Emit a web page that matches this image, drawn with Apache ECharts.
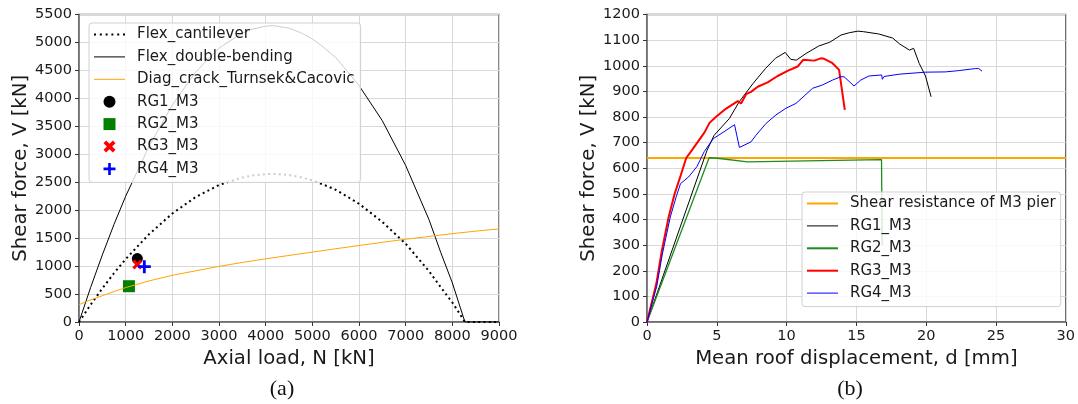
<!DOCTYPE html>
<html>
<head>
<meta charset="utf-8">
<script src="https://cdn.jsdelivr.net/npm/echarts@6/dist/echarts.min.js"></script>
<style>
  html, body { margin: 0; padding: 0; background: #fff; }
  #chart { width: 1078px; height: 404px; }
</style>
</head>
<body>
<div id="chart"></div>
<script>
// ---- (a) Interaction domain: shear force vs axial load ----
const flexN      = [0, 250, 500, 750, 1000, 1500, 2000, 2500, 3000, 3500, 3750, 4000, 4150, 4250, 4500, 4750, 5000, 5250, 5500, 5750, 6000, 6500, 7000, 7500, 7750, 8000, 8270, 9000];
const cantV      = [0, 310, 600, 873, 1125, 1570, 1940, 2235, 2450, 2585, 2624, 2645, 2650, 2645, 2630, 2588, 2535, 2454, 2365, 2243, 2115, 1790, 1400, 910, 624, 350, 0, 0];
const doubleV    = [0, 620, 1200, 1746, 2250, 3140, 3880, 4470, 4900, 5170, 5247, 5290, 5300, 5290, 5255, 5175, 5065, 4908, 4730, 4485, 4230, 3600, 2800, 1830, 1248, 700, 0, 0];
const crackN     = [0, 125, 250, 500, 750, 1000, 1500, 2000, 2500, 3000, 3500, 4000, 4500, 5000, 5500, 6000, 6500, 7000, 7500, 8000, 8500, 9000];
const crackV     = [310, 355, 395, 470, 545, 615, 735, 835, 915, 995, 1065, 1130, 1190, 1250, 1310, 1368, 1425, 1480, 1530, 1580, 1625, 1665];
const pierPoints = {
  RG1: [1250, 1135],
  RG2: [1070, 640],
  RG3: [1250, 1030],
  RG4: [1400, 990]
};

// ---- (b) Pushover curves: shear force vs mean roof displacement ----
const shearResistance = 640;
const rg1Curve = [[0,0],[4.3,670],[4.8,728],[5.9,794],[6.6,859],[7.6,931],[8.5,990],[9.2,1029],[9.9,1052],[10.3,1025],[10.7,1022],[11.4,1048],[12.3,1077],[13.1,1092],[13.9,1120],[14.5,1129],[15.1,1135],[15.5,1133],[16.6,1124],[17.6,1108],[18.1,1085],[18.8,1061],[19.1,1068],[19.5,1009],[19.95,960],[20.35,879]];
const rg2Curve = [[0,0],[4.45,641],[5.2,638],[7.2,625],[11.4,629],[16.8,634],[16.85,300]];
const rg3Curve = [[0,0],[0.67,150],[1.07,280],[1.55,410],[1.98,500],[2.4,570],[2.81,640],[3.22,671],[3.64,703],[4.12,740],[4.48,777],[4.95,801],[5.67,833],[6.5,862],[6.74,853],[7.1,889],[7.45,898],[7.93,918],[8.64,935],[9.36,960],[10.07,980],[10.79,997],[11.19,1023],[11.98,1020],[12.45,1029],[12.69,1027],[13.29,1010],[13.76,984],[14.17,828]];
const rg4Curve = [[0,0],[0.7,140],[1.1,265],[1.67,410],[2.1,490],[2.4,540],[2.98,566],[3.57,606],[4.1,665],[4.76,716],[5.67,748],[6.27,770],[6.62,681],[7.45,703],[7.81,729],[8.53,775],[9.24,808],[9.95,834],[10.67,853],[11.26,882],[11.86,912],[12.57,925],[13.29,944],[13.88,957],[14.12,957],[14.83,921],[15.31,944],[15.9,960],[16.81,964],[16.86,947],[16.98,958],[18.05,967],[19.95,975],[21.38,976],[22.33,981],[23.52,989],[23.76,989],[24,979]];

const zip = (xs, ys) => xs.map((x, i) => [x, ys[i]]);

const FONT = 'DejaVu Sans';
const TXT = '#1a1a1a';

// marker shapes
const xMark = 'path://M0,2.2 L2.2,0 L5,2.8 L7.8,0 L10,2.2 L7.2,5 L10,7.8 L7.8,10 L5,7.2 L2.2,10 L0,7.8 L2.8,5 Z';
const plusMark = 'path://M3.9,0 H6.1 V3.9 H10 V6.1 H6.1 V10 H3.9 V6.1 H0 V3.9 H3.9 Z';
const squareMark = 'path://M0,0 H10 V10 H0 Z';
// legend line handles
const thinLine = 'path://M0,0 H31 V1 H0 Z';
const thickLine = 'path://M0,0 H31 V2 H0 Z';
const dottedLine = 'path://M0,0 h2 v2 h-2 Z M5.8,0 h2 v2 h-2 Z M11.6,0 h2 v2 h-2 Z M17.4,0 h2 v2 h-2 Z M23.2,0 h2 v2 h-2 Z M29,0 h2 v2 h-2 Z';

const plainNum = v => String(v);

function axisCommon(extra) {
  return Object.assign({
    type: 'value',
    axisLine: { show: true, lineStyle: { color: '#666', width: 1.5 } },
    axisTick: { show: true, inside: false, length: 4, lineStyle: { color: '#333', width: 1 } },
    axisLabel: { fontSize: 14.5, color: TXT, fontFamily: FONT, margin: 7, formatter: plainNum },
    splitLine: { show: true, lineStyle: { color: '#d9d9d9', width: 1 } },
    nameLocation: 'middle',
    nameTextStyle: { fontSize: 19.7, color: TXT, fontFamily: FONT }
  }, extra);
}

const legendCommon = {
  orient: 'vertical',
  itemWidth: 31,
  itemHeight: 12,
  itemGap: 7.4,
  backgroundColor: 'rgba(255,255,255,0.8)',
  borderColor: '#d0d0d0',
  borderWidth: 1,
  borderRadius: 3,
  textStyle: { fontSize: 15, fontFamily: FONT, color: TXT, padding: [0, 0, 0, 7] }
};

const option = {
  animation: false,
  backgroundColor: '#fff',
  grid: [
    { left: 79, right: 579, top: 14.5, bottom: 82, show: true, borderColor: '#666', borderWidth: 1.5 },
    { left: 647, right: 11, top: 14.5, bottom: 82, show: true, borderColor: '#666', borderWidth: 1.5 }
  ],
  xAxis: [
    axisCommon({ gridIndex: 0, min: 0, max: 9000, interval: 1000, name: 'Axial load, N [kN]', nameGap: 23 }),
    axisCommon({ gridIndex: 1, min: 0, max: 30, interval: 5, name: 'Mean roof displacement, d [mm]', nameGap: 23 })
  ],
  yAxis: [
    axisCommon({ gridIndex: 0, min: 0, max: 5500, interval: 500, name: 'Shear force, V [kN]', nameGap: 47 }),
    axisCommon({ gridIndex: 1, min: 0, max: 1200, interval: 100, name: 'Shear force, V [kN]', nameGap: 48 })
  ],
  legend: [
    Object.assign({}, legendCommon, {
      left: 89, top: 23,
      padding: [4, 6, 6, 5],
      data: [
        { name: 'Flex_cantilever', icon: dottedLine },
        { name: 'Flex_double-bending', icon: thinLine },
        { name: 'Diag_crack_Turnsek&Cacovic', icon: thinLine },
        { name: 'RG1_M3', icon: 'circle' },
        { name: 'RG2_M3', icon: squareMark },
        { name: 'RG3_M3', icon: xMark },
        { name: 'RG4_M3', icon: plusMark }
      ]
    }),
    Object.assign({}, legendCommon, {
      left: 802, top: 192,
      padding: [4, 5, 6, 5],
      data: [
        { name: 'Shear resistance of M3 pier', icon: thickLine },
        { name: 'RG1_M3 ', icon: thinLine },
        { name: 'RG2_M3 ', icon: thickLine },
        { name: 'RG3_M3 ', icon: thickLine },
        { name: 'RG4_M3 ', icon: thinLine }
      ]
    })
  ],
  graphic: [
    { type: 'text', x: 282, y: 389, style: { text: '(a)', font: '22px "Liberation Serif"', fill: '#111', align: 'center', verticalAlign: 'middle' } },
    { type: 'text', x: 850, y: 389, style: { text: '(b)', font: '22px "Liberation Serif"', fill: '#111', align: 'center', verticalAlign: 'middle' } }
  ],
  series: [
    // (a)
    { name: 'Flex_cantilever', type: 'line', xAxisIndex: 0, yAxisIndex: 0, symbol: 'none',
      data: zip(flexN, cantV), color: '#000', lineStyle: { color: '#000', width: 2, type: [2, 3.3] } },
    { name: 'Flex_double-bending', type: 'line', xAxisIndex: 0, yAxisIndex: 0, symbol: 'none',
      data: zip(flexN, doubleV), color: '#000', lineStyle: { color: '#000', width: 1 } },
    { name: 'Diag_crack_Turnsek&Cacovic', type: 'line', xAxisIndex: 0, yAxisIndex: 0, symbol: 'none',
      data: zip(crackN, crackV), color: '#FFA500', lineStyle: { color: '#FFA500', width: 1 } },
    { name: 'RG1_M3', type: 'scatter', xAxisIndex: 0, yAxisIndex: 0, symbol: 'circle', symbolSize: 11,
      data: [pierPoints.RG1], itemStyle: { color: '#000', opacity: 1 } },
    { name: 'RG2_M3', type: 'scatter', xAxisIndex: 0, yAxisIndex: 0, symbol: squareMark, symbolSize: 12,
      data: [pierPoints.RG2], itemStyle: { color: '#008000', opacity: 1 } },
    { name: 'RG3_M3', type: 'scatter', xAxisIndex: 0, yAxisIndex: 0, symbol: xMark, symbolSize: 10,
      data: [pierPoints.RG3], itemStyle: { color: '#ff0000', opacity: 1 } },
    { name: 'RG4_M3', type: 'scatter', xAxisIndex: 0, yAxisIndex: 0, symbol: plusMark, symbolSize: 13,
      data: [pierPoints.RG4], itemStyle: { color: '#0000ff', opacity: 1 } },
    // (b)
    { name: 'Shear resistance of M3 pier', type: 'line', xAxisIndex: 1, yAxisIndex: 1, symbol: 'none',
      data: [[0, shearResistance], [30, shearResistance]], color: '#FFA500', lineStyle: { color: '#FFA500', width: 2 } },
    { name: 'RG1_M3 ', type: 'line', xAxisIndex: 1, yAxisIndex: 1, symbol: 'none',
      data: rg1Curve, color: '#000', lineStyle: { color: '#000', width: 1 } },
    { name: 'RG2_M3 ', type: 'line', xAxisIndex: 1, yAxisIndex: 1, symbol: 'none',
      data: rg2Curve, color: '#1e8c1e', lineStyle: { color: '#1e8c1e', width: 1.3 } },
    { name: 'RG3_M3 ', type: 'line', xAxisIndex: 1, yAxisIndex: 1, symbol: 'none',
      data: rg3Curve, color: '#ff0000', lineStyle: { color: '#ff0000', width: 2 } },
    { name: 'RG4_M3 ', type: 'line', xAxisIndex: 1, yAxisIndex: 1, symbol: 'none',
      data: rg4Curve, color: '#0000ff', lineStyle: { color: '#0000ff', width: 1 } }
  ]
};

const chart = echarts.init(document.getElementById('chart'), null, { renderer: 'canvas' });
chart.setOption(option);
</script>
</body>
</html>
